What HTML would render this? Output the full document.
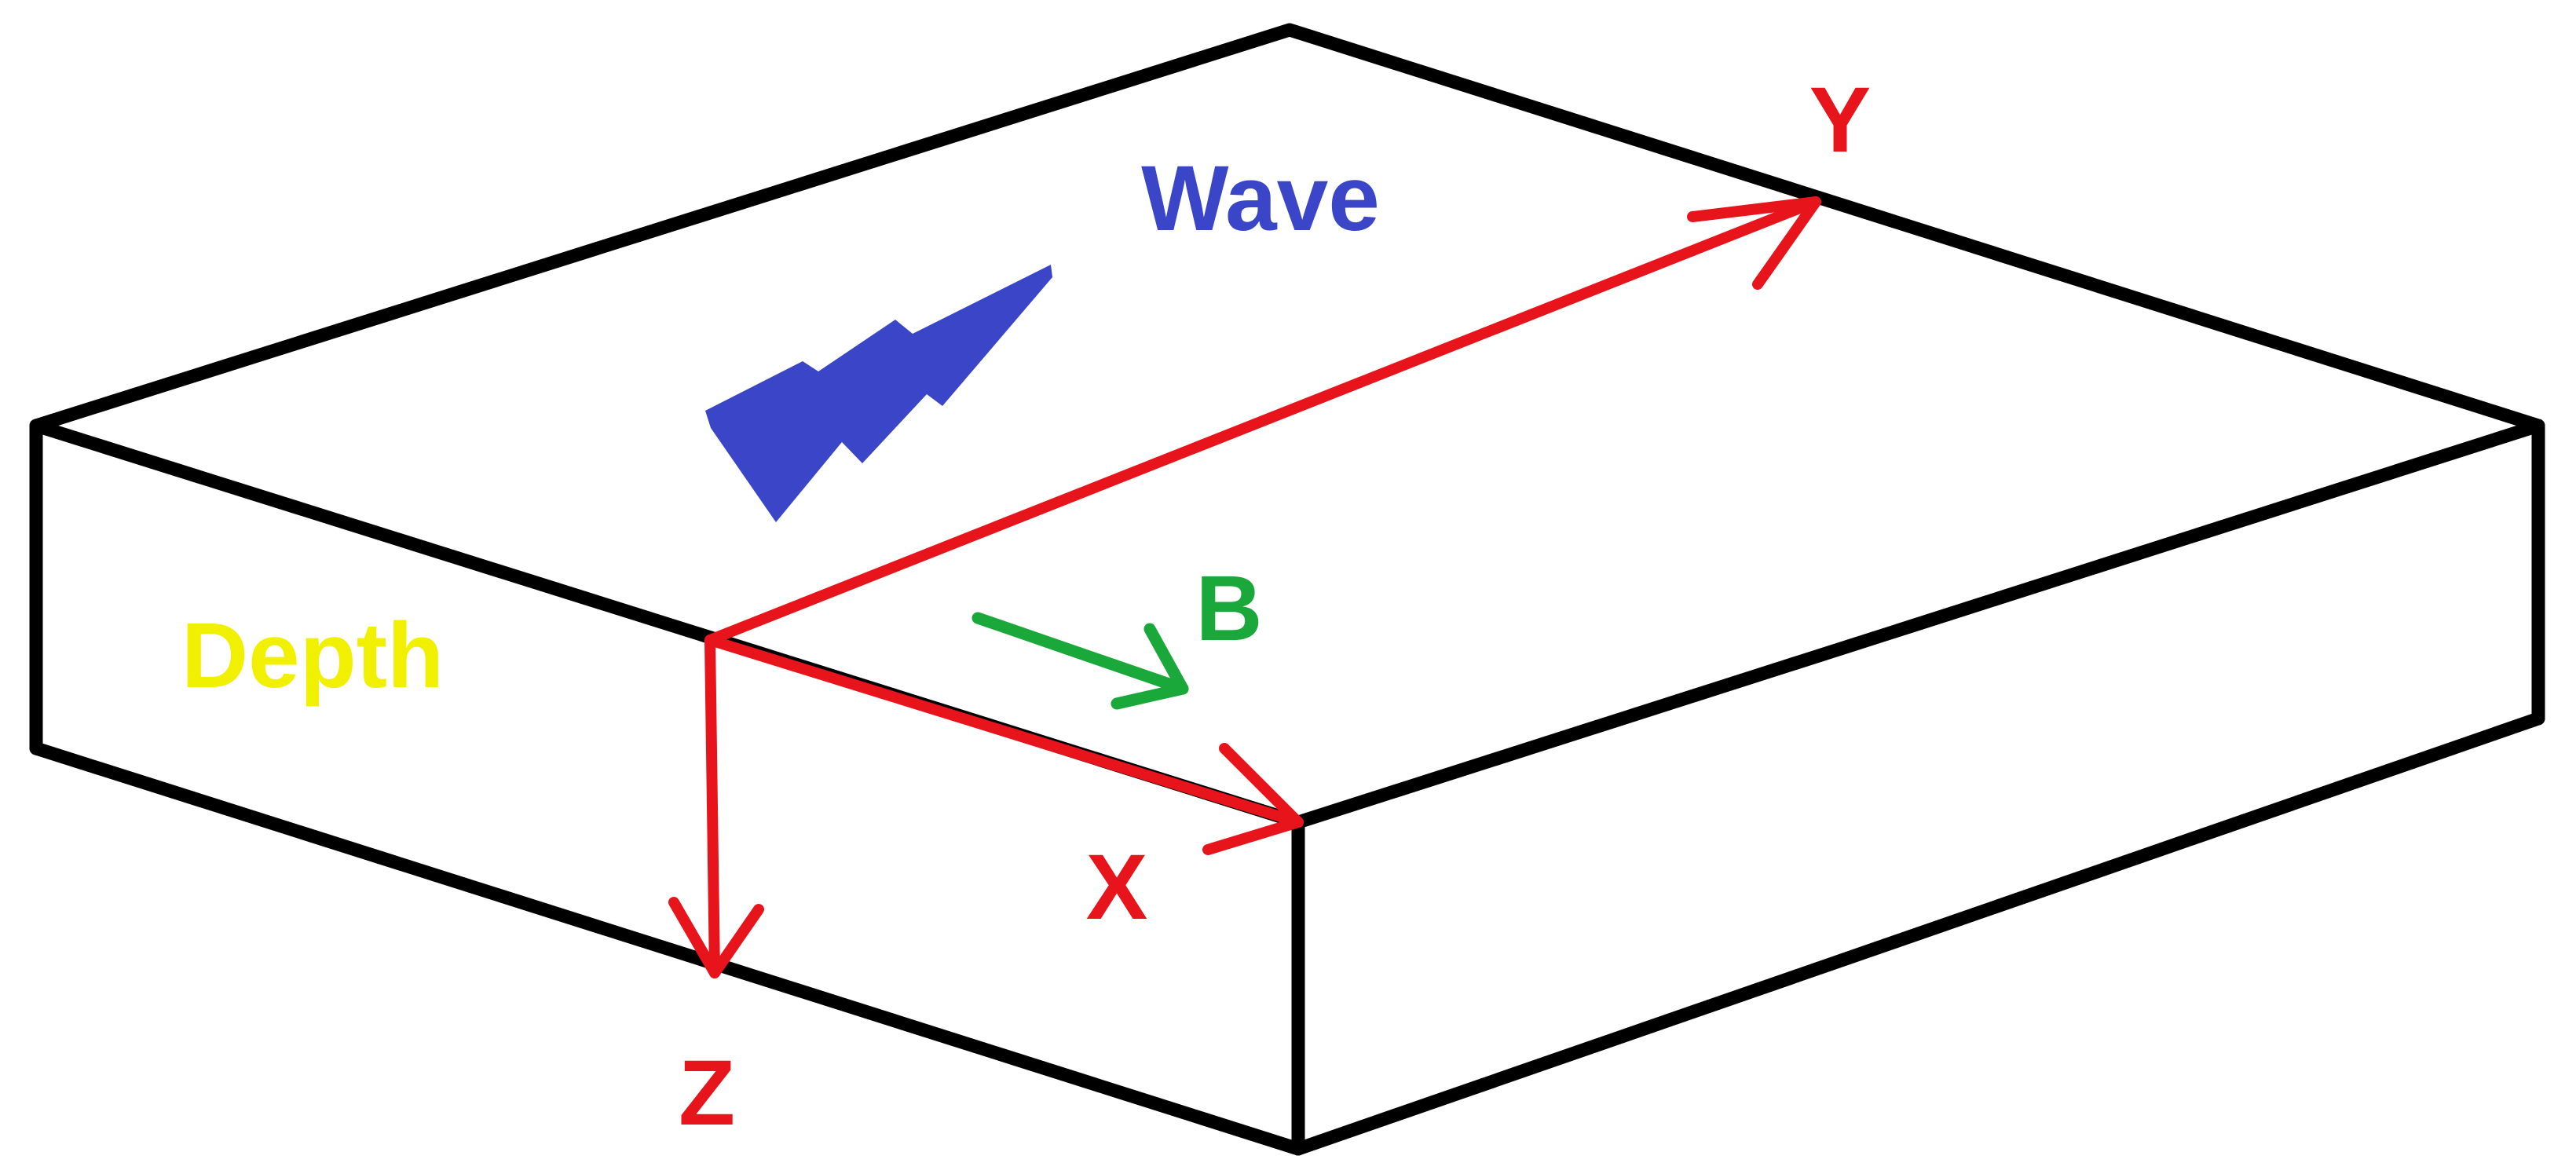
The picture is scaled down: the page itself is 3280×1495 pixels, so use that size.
<!DOCTYPE html>
<html><head><style>html,body{margin:0;padding:0;background:#fff}svg{display:block}</style></head>
<body>
<svg width="3280" height="1495" viewBox="0 0 3280 1495" xmlns="http://www.w3.org/2000/svg">
<g fill="none" stroke="#000" stroke-width="17" stroke-linejoin="round" stroke-linecap="round">
<polygon points="1642,38 3232,542 1653,1047 46,542"/>
<line x1="46" y1="542" x2="46" y2="953"/>
<line x1="46" y1="953" x2="1653" y2="1463"/>
<line x1="1653" y1="1047" x2="1653" y2="1463"/>
<line x1="3232" y1="542" x2="3232" y2="915"/>
<line x1="3232" y1="915" x2="1653" y2="1463"/>
</g>
<polygon fill="#3b45c8" points="898,523 1022,460 1042,473 1140,407 1162,425 1338,337 1340,353 1200,517 1180,502 1098,590 1072,563 988,665 905,545"/>
<g fill="none" stroke="#e8141c" stroke-width="14" stroke-linecap="round" stroke-linejoin="round">
<line x1="904" y1="815" x2="2312" y2="257"/>
<polyline points="2155,276 2312,257 2238,362"/>
<line x1="904" y1="815" x2="1653" y2="1047"/>
<polyline points="1559,953 1653,1047 1538,1082"/>
<line x1="904" y1="815" x2="910" y2="1239"/>
<polyline points="858,1149 910,1239 966,1158"/>
</g>
<g fill="none" stroke="#1aa83a" stroke-width="15" stroke-linecap="round" stroke-linejoin="round">
<line x1="1245" y1="787" x2="1506" y2="877"/>
<polyline points="1464,801 1506,877 1422,896"/>
</g>
<g font-family="Liberation Sans, sans-serif" font-weight="bold" text-anchor="middle">
<text x="1605" y="293" font-size="118" fill="#3b45c8">Wave</text>
<text x="2343" y="193" font-size="118" fill="#e8141c">Y</text>
<text x="1565" y="815" font-size="118" fill="#1aa83a">B</text>
<text x="398" y="875" font-size="118" fill="#f0f000">Depth</text>
<text x="1422" y="1170" font-size="118" fill="#e8141c">X</text>
<text x="900" y="1432" font-size="118" fill="#e8141c">Z</text>
</g>
</svg>
</body></html>
